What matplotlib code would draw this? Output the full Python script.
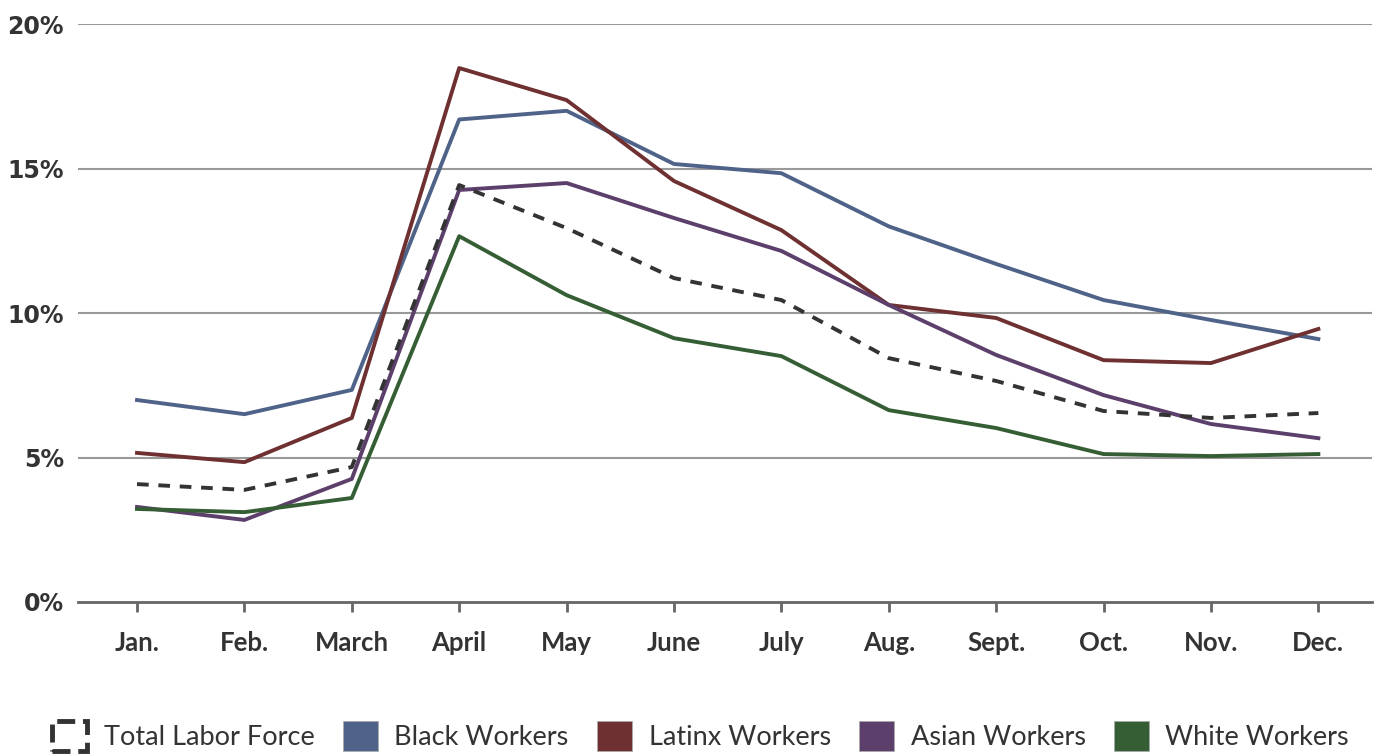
import matplotlib.pyplot as plt
from matplotlib.patches import Patch

months = ['Jan.', 'Feb.', 'March', 'April', 'May', 'June', 'July',
          'Aug.', 'Sept.', 'Oct.', 'Nov.', 'Dec.']

total = [4.08, 3.88, 4.67, 14.43, 12.94, 11.21, 10.45, 8.44, 7.65, 6.61, 6.37, 6.54]
black = [6.99, 6.50, 7.34, 16.70, 17.00, 15.16, 14.84, 13.00, 11.70, 10.45, 9.76, 9.10]
latinx = [5.16, 4.84, 6.37, 18.48, 17.37, 14.57, 12.87, 10.28, 9.83, 8.37, 8.27, 9.45]
asian = [3.29, 2.84, 4.26, 14.26, 14.50, 13.29, 12.15, 10.28, 8.55, 7.16, 6.16, 5.67]
white = [3.22, 3.11, 3.60, 12.66, 10.62, 9.13, 8.51, 6.64, 6.02, 5.12, 5.05, 5.12]

c_total = '#333333'
c_black = '#4f6389'
c_latinx = '#6e3030'
c_asian = '#5c3f6a'
c_white = '#355e35'

fig = plt.figure(figsize=(13.82, 7.54), dpi=100)
ax = fig.add_axes([0.0564, 0.2016, 0.9364, 0.7664])

x = range(len(months))
ax.plot(x, black, color=c_black, lw=2.8, zorder=3)
ax.plot(x, latinx, color=c_latinx, lw=2.8, zorder=3)
ax.plot(x, asian, color=c_asian, lw=2.8, zorder=3)
ax.plot(x, white, color=c_white, lw=2.8, zorder=3)
ax.plot(x, total, color=c_total, lw=2.8, ls=(0, (3, 2.5)), zorder=4)

ax.set_xlim(-0.55, 11.5)
ax.set_ylim(0, 20)
ax.set_yticks([0, 5, 10, 15, 20])
ax.set_yticklabels(['0%', '5%', '10%', '15%', '20%'])
ax.set_xticks(list(x))
ax.set_xticklabels(months)

for yv in [5, 10, 15, 20]:
    ax.axhline(yv, color='#999999', lw=1.5, zorder=1)

for s in ['top', 'right', 'left']:
    ax.spines[s].set_visible(False)
ax.spines['bottom'].set_color('#666666')
ax.spines['bottom'].set_linewidth(2)

ax.tick_params(axis='y', length=0, pad=10, labelsize=17, labelcolor='#333333')
ax.tick_params(axis='x', length=7, width=2, color='#666666', pad=14,
               labelsize=18.5, labelcolor='#333333')
for t in ax.get_yticklabels():
    t.set_fontweight('bold')
    t.set_family('DejaVu Sans')
for t in ax.get_xticklabels():
    t.set_fontweight('bold')
    t.set_family('Lato')

handles = [
    Patch(facecolor='white', edgecolor=c_total, linestyle='--', linewidth=3.5),
    Patch(facecolor=c_black, edgecolor='#aaaaaa', linewidth=0.5),
    Patch(facecolor=c_latinx, edgecolor='#aaaaaa', linewidth=0.5),
    Patch(facecolor=c_asian, edgecolor='#aaaaaa', linewidth=0.5),
    Patch(facecolor=c_white, edgecolor='#aaaaaa', linewidth=0.5),
]
labels = ['Total Labor Force', 'Black Workers', 'Latinx Workers',
          'Asian Workers', 'White Workers']
fig.legend(handles, labels, loc='lower center', bbox_to_anchor=(0.507, -0.028),
           ncol=5, frameon=False, handlelength=1.3, handleheight=1.3,
           handletextpad=0.6, columnspacing=1.05,
           prop={'family': 'Lato', 'size': 19.5}, labelcolor='#333333')

fig.savefig('out.png', dpi=100)
